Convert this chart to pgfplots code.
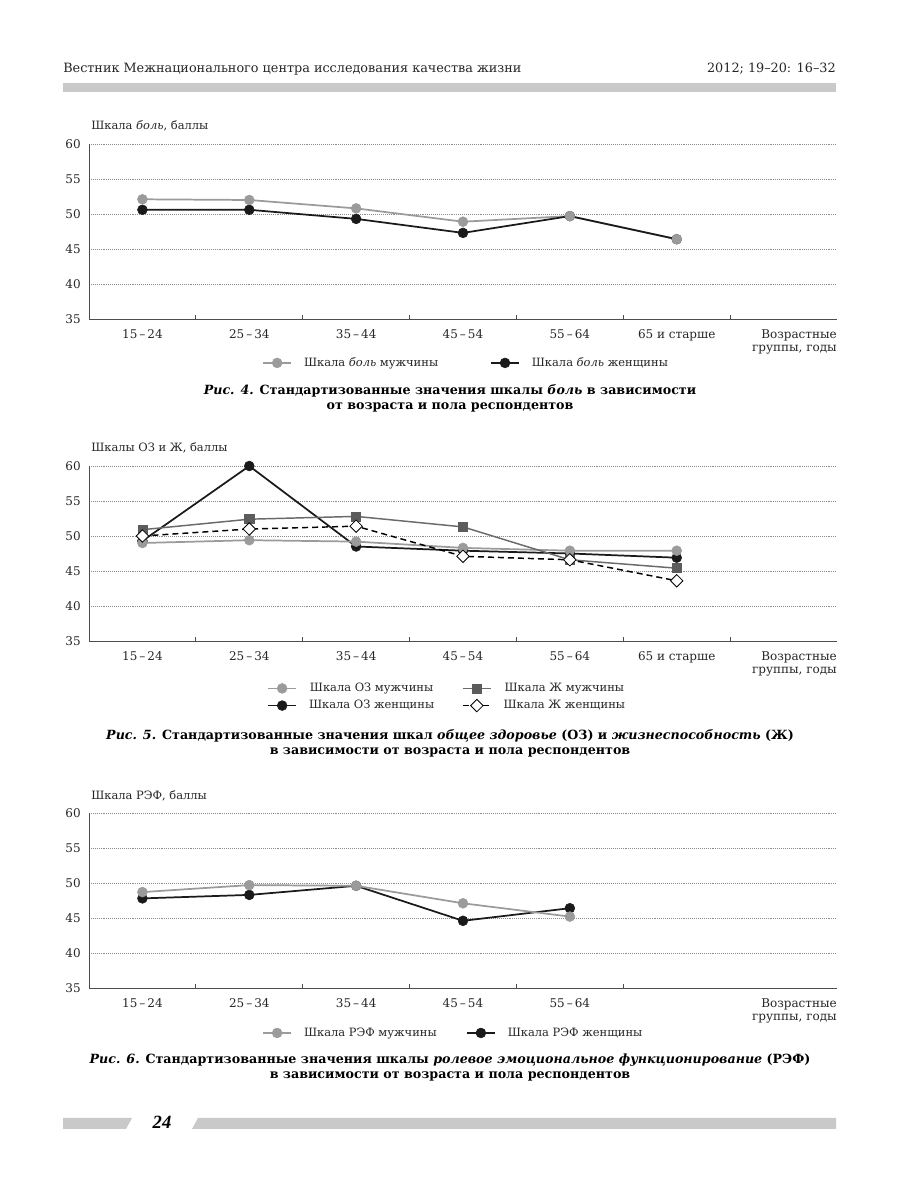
\documentclass[border=0pt]{standalone}
\usepackage{pgfplots}
\pgfplotsset{compat=1.18}
\usepackage{pgfplotstable}
\usepackage{fontspec}
\setmainfont{DejaVu Serif}
\newfontfamily\timesfont{Liberation Serif}

\definecolor{menGray}{HTML}{9B9B9B}
\definecolor{womBlack}{HTML}{1A1A1A}
\definecolor{sqGray}{HTML}{5C5C5C}
\definecolor{sqLine}{HTML}{6A6A6A}
\definecolor{axisGray}{HTML}{4D4D4D}
\definecolor{gridGray}{HTML}{8C8C8C}
\definecolor{barGray}{HTML}{C9C9C9}
\definecolor{textGray}{HTML}{262626}

% fig. 4: pain scale
\pgfplotstableread{
x   men  women
0.5 52.1 50.6
1.5 52.0 50.6
2.5 50.8 49.3
3.5 48.9 47.3
4.5 49.7 49.7
5.5 46.4 46.4
}\painTable

% fig. 5: general health (oz) and vitality (zh)
\pgfplotstableread{
x   ozm  zhm  ozw  zhw
0.5 49.0 50.9 49.3 50.0
1.5 49.4 52.4 60.0 51.0
2.5 49.2 52.8 48.5 51.4
3.5 48.3 51.3 47.9 47.1
4.5 47.9 46.6 47.5 46.6
5.5 47.9 45.4 46.9 43.6
}\ozTable

% fig. 6: role emotional
\pgfplotstableread{
x   men  women
0.5 48.7 47.8
1.5 49.7 48.3
2.5 49.6 49.6
3.5 47.1 44.6
4.5 45.2 46.4
}\refTable

\newcommand\chartfont{\fontsize{9}{10}\selectfont}
\newcommand\legfont{\fontsize{8.6}{10}\selectfont}
\newcommand\headfont{\fontsize{9.6}{11}\selectfont}
\newcommand\capfont{\bfseries\fontsize{9.5}{11}\selectfont}
\newcommand\dd{\thinspace–\thinspace}

\tikzset{
  ylab/.style={anchor=base west, inner sep=0pt, font=\legfont, text=textGray, xshift=1.5pt, yshift=10.5pt},
  xlab/.style={anchor=north east, align=right, inner sep=0pt, font=\fontsize{9}{9.75}\selectfont,
    text=textGray, yshift=-7.5pt},
}

\pgfplotsset{
  panel/.style={
    scale only axis, width=561pt, height=131.25pt, anchor=south west,
    clip mode=individual,
    xmin=0, xmax=7, ymin=35, ymax=60, ytick={35,40,...,60},
    axis x line*=bottom, axis y line*=left,
    axis line style={draw=axisGray, line width=0.7pt},
    ymajorgrids, grid style={draw=gridGray, line width=0.45pt, densely dotted},
    ytick style={draw=none},
    yticklabel style={font=\chartfont, text=textGray, anchor=east, inner sep=0pt, xshift=-6pt},
    /pgf/number format/assume math mode=true,
    xticklabels={},
    tick align=inside, major tick length=3pt,
    xtick style={draw=axisGray, line width=0.6pt},
    extra x tick style={major tick length=0pt,
      xticklabel style={font=\chartfont, text=textGray, anchor=north, inner sep=0pt, yshift=-7.5pt}},
    legend style={draw=none, fill=none, inner sep=0pt, font=\legfont, text=textGray, anchor=west,
      row sep=1pt, /tikz/every odd column/.append style={column sep=7pt}},
    legend image code/.code={\draw[mark repeat=2, mark phase=2, #1]
      plot coordinates {(0pt,0pt) (10.5pt,0pt) (21pt,0pt)};},
  },
  men/.style={draw=menGray, line width=1.3pt, mark=*, mark size=3.7pt,
    mark options={fill=menGray, draw=menGray, line width=0.4pt}},
  women/.style={draw=womBlack, line width=1.3pt, mark=*, mark size=3.7pt,
    mark options={fill=womBlack, draw=womBlack, line width=0.4pt}},
  sqr/.style={draw=sqLine, line width=1.1pt, mark=square*, mark size=3.4pt,
    mark options={fill=sqGray, draw=sqGray, line width=0.4pt}},
  dia/.style={draw=black, line width=1.1pt, dash pattern=on 4.5pt off 3pt,
    mark=square*, mark size=3.3pt,
    mark options={solid, rotate=45, fill=white, draw=black, line width=0.6pt}},
}

\begin{document}
\begin{tikzpicture}
\begin{scope}[x=0.75pt, y=-0.75pt, shift={(0pt,887.25pt)}]
  \fill[white] (0,0) rectangle (900,1183);
  \path[use as bounding box] (0,0) rectangle (900,1183);
  % running head
  \node[anchor=base west, inner sep=0pt, font=\headfont, text=textGray] at (63,73)
    {Вестник Межнационального центра исследования качества жизни};
  \node[anchor=base east, inner sep=0pt, font=\headfont, text=textGray] at (836,73)
    {2012; 19–20: 16–32};
  \fill[barGray] (63,83) rectangle (836,92);
  % captions
  \node[anchor=base, inner sep=0pt, font=\capfont] at (450,395)
    {\textit{Рис. 4.} Стандартизованные значения шкалы \textit{боль} в зависимости};
  \node[anchor=base, inner sep=0pt, font=\capfont] at (450,410)
    {от возраста и пола респондентов};
  \node[anchor=base, inner sep=0pt, font=\capfont] at (450,740)
    {\textit{Рис. 5.} Стандартизованные значения шкал \textit{общее здоровье} (ОЗ) и \textit{жизнеспособность} (Ж)};
  \node[anchor=base, inner sep=0pt, font=\capfont] at (450,755)
    {в зависимости от возраста и пола респондентов};
  \node[anchor=base, inner sep=0pt, font=\capfont] at (450,1064)
    {\textit{Рис. 6.} Стандартизованные значения шкалы \textit{ролевое эмоциональное функционирование} (РЭФ)};
  \node[anchor=base, inner sep=0pt, font=\capfont] at (450,1079)
    {в зависимости от возраста и пола респондентов};
  % footer
  \fill[barGray] (63,1118) -- (132,1118) -- (126,1129) -- (63,1129) -- cycle;
  \fill[barGray] (198,1118) -- (836,1118) -- (836,1129) -- (192,1129) -- cycle;
  \node[anchor=base, inner sep=0pt, font=\timesfont\bfseries\itshape\fontsize{14}{15}\selectfont] at (162,1129) {24};
\end{scope}

% fig. 4 -- grey line under the black one, grey marks on top
\begin{axis}[panel, at={(66.75pt,648pt)},
  xtick={1,...,6},
  extra x ticks={0.5,1.5,...,5.5},
  extra x tick labels={15\dd24,25\dd34,35\dd44,45\dd54,55\dd64,65 и старше},
  legend columns=2,
  legend style={at={(0.2313,-0.251)}, /tikz/every even column/.append style={column sep=37pt}}]
  \addplot[men, no markers, forget plot] table[x=x, y=men] {\painTable};
  \addplot[women, forget plot] table[x=x, y=women] {\painTable};
  \addplot[men, only marks, forget plot] table[x=x, y=men] {\painTable};
  \addlegendimage{men}
  \addlegendentry{Шкала \textit{боль} мужчины}
  \addlegendimage{women}
  \addlegendentry{Шкала \textit{боль} женщины}
  \node[ylab] at (rel axis cs:0,1) {Шкала \textit{боль}, баллы};
  \node[xlab] at (rel axis cs:1,0) {Возрастные\\группы, годы};
\end{axis}

% fig. 5
\begin{axis}[panel, at={(66.75pt,406.5pt)},
  xtick={1,...,6},
  extra x ticks={0.5,1.5,...,5.5},
  extra x tick labels={15\dd24,25\dd34,35\dd44,45\dd54,55\dd64,65 и старше},
  legend columns=2,
  legend style={at={(0.238,-0.32)}, /tikz/every even column/.append style={column sep=19pt}}]
  \addplot[women, forget plot] table[x=x, y=ozw] {\ozTable};
  \addplot[men, forget plot] table[x=x, y=ozm] {\ozTable};
  \addplot[sqr, forget plot] table[x=x, y=zhm] {\ozTable};
  \addplot[dia, forget plot] table[x=x, y=zhw] {\ozTable};
  \addlegendimage{men}
  \addlegendentry{Шкала ОЗ мужчины}
  \addlegendimage{sqr}
  \addlegendentry{Шкала Ж мужчины}
  \addlegendimage{women}
  \addlegendentry{Шкала ОЗ женщины}
  \addlegendimage{dia}
  \addlegendentry{Шкала Ж женщины}
  \node[ylab] at (rel axis cs:0,1) {Шкалы ОЗ и Ж, баллы};
  \node[xlab] at (rel axis cs:1,0) {Возрастные\\группы, годы};
\end{axis}

% fig. 6
\begin{axis}[panel, at={(66.75pt,146.25pt)},
  xtick={1,...,5},
  extra x ticks={0.5,1.5,...,4.5},
  extra x tick labels={15\dd24,25\dd34,35\dd44,45\dd54,55\dd64},
  legend columns=2,
  legend style={at={(0.2313,-0.257)}, /tikz/every even column/.append style={column sep=20pt}}]
  \addplot[women, forget plot] table[x=x, y=women] {\refTable};
  \addplot[men, forget plot] table[x=x, y=men] {\refTable};
  \addlegendimage{men}
  \addlegendentry{Шкала РЭФ мужчины}
  \addlegendimage{women}
  \addlegendentry{Шкала РЭФ женщины}
  \node[ylab] at (rel axis cs:0,1) {Шкала РЭФ, баллы};
  \node[xlab] at (rel axis cs:1,0) {Возрастные\\группы, годы};
\end{axis}
\end{tikzpicture}
\end{document}
